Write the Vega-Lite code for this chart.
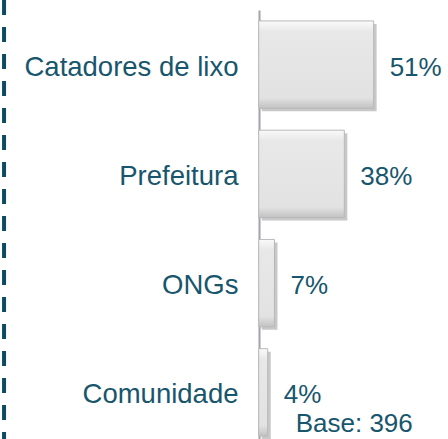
{
  "$schema": "https://vega.github.io/schema/vega-lite/v6.json",
  "width": 448,
  "height": 439,
  "autosize": {"type": "none"},
  "padding": 0,
  "background": "white",
  "config": {
    "view": {"stroke": null},
    "font": "Liberation Sans",
    "axisX": {"disable": true},
    "axisY": {"offset": -259, "domainColor": "#9ea4aa", "domainWidth": 2, "ticks": false, "tickSize": 0, "labelPadding": 21, "labelOffset": 3, "labelFontSize": 27.5, "labelLimit": 0, "labelColor": "#17566d", "labelFont": "Liberation Sans", "labelFontWeight": "normal", "grid": false}
  },
  "data": {"values": [
    {"cat": "Catadores de lixo", "pct": 0.51},
    {"cat": "Prefeitura", "pct": 0.38},
    {"cat": "ONGs", "pct": 0.07},
    {"cat": "Comunidade", "pct": 0.04}
  ]},
  "layer": [
    {
      "data": {"values": [{"dummy": 1}]},
      "mark": {"type": "rule", "color": "#0d4b61", "strokeWidth": 4, "strokeDash": [15, 12]},
      "encoding": {"x": {"datum": -1.13, "type": "quantitative", "scale": {"domain": [-1.148, 0.84], "nice": false, "zero": false}}}
    },
    {
      "mark": {"type": "bar", "fill": "#9a9a9a", "opacity": 0.55, "xOffset": 3, "yOffset": 3},
      "encoding": {
        "y": {"field": "cat", "type": "nominal", "sort": null, "title": null, "scale": {"range": [10, 447], "paddingInner": 0.2, "paddingOuter": 0.1}},
        "x": {"field": "pct", "type": "quantitative", "title": null}
      }
    },
    {
      "mark": {"type": "bar", "stroke": "#b8b8b8", "strokeWidth": 1,
        "fill": {"gradient": "linear", "x1": 0, "y1": 0, "x2": 0, "y2": 1, "stops": [
          {"offset": 0, "color": "#fafafa"},
          {"offset": 0.12, "color": "#e8e8e8"},
          {"offset": 0.88, "color": "#e2e2e2"},
          {"offset": 1, "color": "#c2c2c2"}
        ]}},
      "encoding": {
        "y": {"field": "cat", "type": "nominal", "sort": null, "title": null},
        "x": {"field": "pct", "type": "quantitative", "title": null}
      }
    },
    {
      "mark": {"type": "text", "align": "left", "baseline": "middle", "dx": 16, "dy": 3, "fontSize": 26, "color": "#17566d"},
      "encoding": {
        "y": {"field": "cat", "type": "nominal", "sort": null, "title": null},
        "x": {"field": "pct", "type": "quantitative", "title": null},
        "text": {"field": "pct", "type": "quantitative", "format": ".0%"}
      }
    },
    {
      "data": {"values": [{"note": "Base: 396", "cat": "Comunidade", "pos": 0}]},
      "mark": {"type": "text", "align": "left", "baseline": "alphabetic", "dx": 37, "dy": 40, "fontSize": 26, "color": "#17566d"},
      "encoding": {
        "y": {"field": "cat", "type": "nominal", "sort": null, "title": null},
        "x": {"field": "pos", "type": "quantitative", "title": null},
        "text": {"field": "note", "type": "nominal"}
      }
    }
  ]
}
